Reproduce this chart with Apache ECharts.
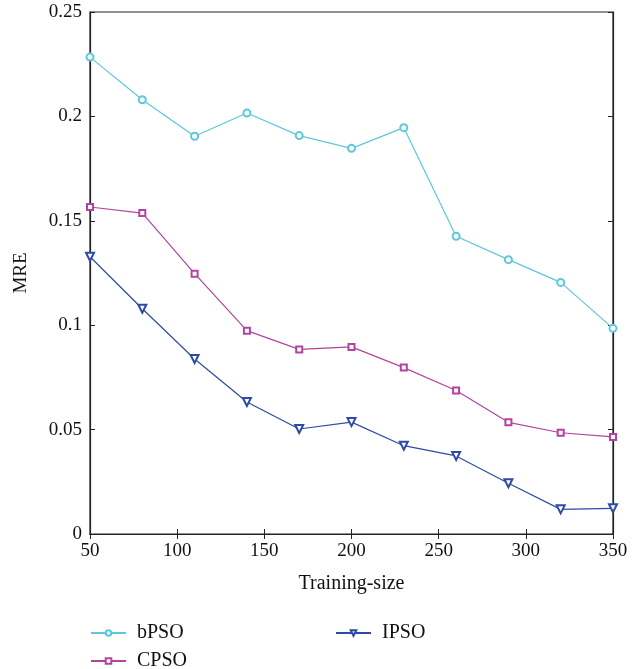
<!DOCTYPE html>
<html>
<head>
<meta charset="utf-8">
<script src="https://cdn.jsdelivr.net/npm/echarts@6/dist/echarts.min.js"></script>
<style>html,body{margin:0;padding:0;background:#fff;}#c{width:644px;height:669px;}</style>
</head>
<body>
<div id="c"></div>
<script>
const trainingSize = [50, 80, 110, 140, 170, 200, 230, 260, 290, 320, 350];
const bPSO = [0.2284, 0.2080, 0.1905, 0.2016, 0.1908, 0.1847, 0.1946, 0.1426, 0.1314, 0.1205, 0.0985];
const CPSO = [0.1566, 0.1537, 0.1247, 0.0974, 0.0884, 0.0896, 0.0797, 0.0687, 0.0535, 0.0485, 0.0465];
const IPSO = [0.1328, 0.1079, 0.0838, 0.0632, 0.0503, 0.0536, 0.0423, 0.0374, 0.0243, 0.0118, 0.0123];

const font = '"Liberation Serif", "DejaVu Serif", serif';
const axisColor = '#222';
const chart = echarts.init(document.getElementById('c'));

function pairs(arr) { return trainingSize.map((x, i) => [x, arr[i]]); }
const legendText = { fontFamily: font, fontSize: 20, color: '#111', padding: [0, 0, 0, 6] };

chart.setOption({
  backgroundColor: '#fff',
  animation: false,
  textStyle: { fontFamily: font },
  grid: { left: 90, right: 31, top: 12, bottom: 135, show: true, borderColor: axisColor, borderWidth: 1.2 },
  legend: [
    { data: ['bPSO'], left: 85, top: 618, itemWidth: 35, itemHeight: 7, textStyle: legendText },
    { data: ['CPSO'], left: 85, top: 646, itemWidth: 35, itemHeight: 7, textStyle: legendText },
    { data: ['IPSO'], left: 330, top: 618, itemWidth: 35, itemHeight: 7, textStyle: legendText }
  ],
  xAxis: [
    {
      type: 'value', min: 50, max: 350, interval: 50, position: 'bottom',
      name: 'Training-size', nameLocation: 'middle', nameGap: 40,
      nameTextStyle: { fontFamily: font, fontSize: 20, color: '#111' },
      axisLine: { show: true, lineStyle: { color: axisColor, width: 1.2 } },
      axisTick: { show: true, inside: true, length: 5, lineStyle: { color: axisColor } },
      axisLabel: { fontFamily: font, fontSize: 19, color: '#111', margin: 8 },
      splitLine: { show: false }
    },
    {
      type: 'value', min: 50, max: 350, interval: 50, position: 'top',
      axisLine: { show: true, lineStyle: { color: axisColor, width: 1.2 } },
      axisTick: { show: true, inside: true, length: 5, lineStyle: { color: axisColor } },
      axisLabel: { show: false }, splitLine: { show: false }
    }
  ],
  yAxis: [
    {
      type: 'value', min: 0, max: 0.25, interval: 0.05, position: 'left',
      name: 'MRE', nameLocation: 'middle', nameGap: 59, nameRotate: 90,
      nameTextStyle: { fontFamily: font, fontSize: 19, color: '#111' },
      axisLine: { show: true, lineStyle: { color: axisColor, width: 1.2 } },
      axisTick: { show: true, inside: true, length: 5, lineStyle: { color: axisColor } },
      axisLabel: { fontFamily: font, fontSize: 19, color: '#111', margin: 8, formatter: v => String(+v.toFixed(2)) },
      splitLine: { show: false }
    },
    {
      type: 'value', min: 0, max: 0.25, interval: 0.05, position: 'right',
      axisLine: { show: true, lineStyle: { color: axisColor, width: 1.2 } },
      axisTick: { show: true, inside: true, length: 5, lineStyle: { color: axisColor } },
      axisLabel: { show: false }, splitLine: { show: false }
    }
  ],
  series: [
    {
      name: 'bPSO', type: 'line', data: pairs(bPSO), symbol: 'emptyCircle', symbolSize: 7,
      lineStyle: { color: '#5cc8da', width: 1.2 }, itemStyle: { color: '#5cc8da', borderWidth: 1.1 }
    },
    {
      name: 'CPSO', type: 'line', data: pairs(CPSO), symbol: 'emptyRect', symbolSize: 6,
      lineStyle: { color: '#b4439e', width: 1.2 }, itemStyle: { color: '#b4439e', borderWidth: 1.1 }
    },
    {
      name: 'IPSO', type: 'line', data: pairs(IPSO), symbol: 'emptyTriangle', symbolRotate: 180, symbolSize: 8,
      lineStyle: { color: '#2d4ba6', width: 1.2 }, itemStyle: { color: '#2d4ba6', borderWidth: 1.1 }
    }
  ]
});
</script>
</body>
</html>
